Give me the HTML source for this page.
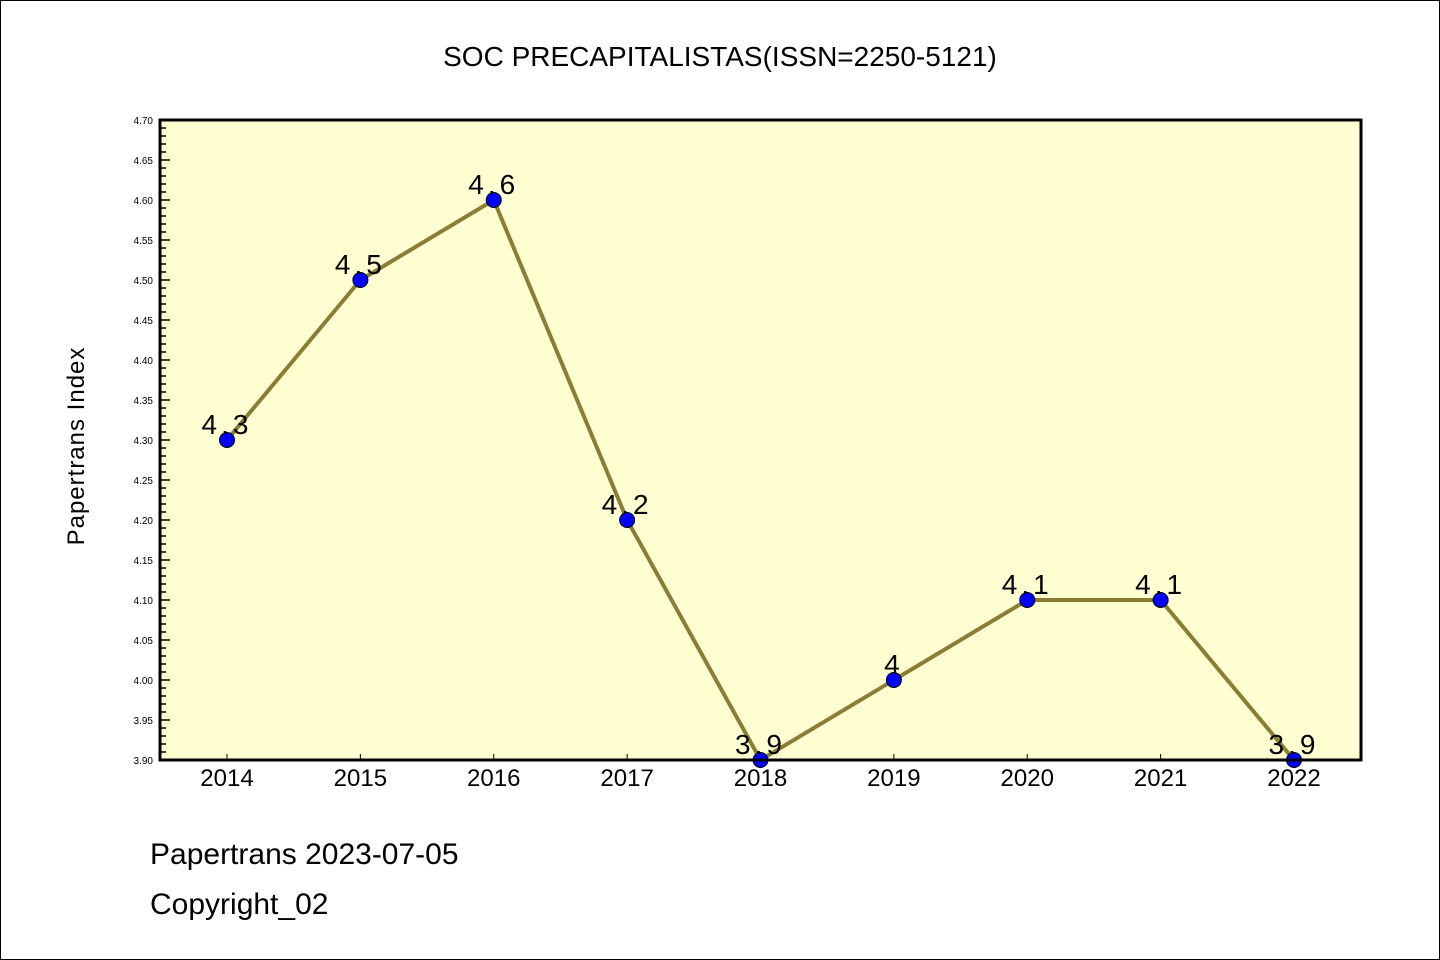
<!DOCTYPE html>
<html><head><meta charset="utf-8"><style>
body{margin:0;background:#fff;}
svg{display:block;font-family:"Liberation Sans",sans-serif;}
.wq{font-family:"WenQuanYi Zen Hei Mono","WenQuanYi Zen Hei","Liberation Sans",sans-serif;}
</style></head><body>
<svg id="c" width="1440" height="960" viewBox="0 0 1440 960">
<rect x="0.5" y="0.5" width="1439" height="959" fill="#fff" stroke="#000"/>
<text class="wq" x="720" y="66" text-anchor="middle" font-size="28">SOC PRECAPITALISTAS(ISSN=2250-5121)</text>
<rect x="160" y="120" width="1201" height="640" fill="#ffffd2"/>
<g id="yax"></g>
<g id="xax"></g>
<g id="marks"></g>
<rect x="160" y="120" width="1201" height="640" fill="none" stroke="#000" stroke-width="3"/>
<text class="wq" transform="translate(84,446) rotate(-90)" text-anchor="middle" font-size="24" letter-spacing="1">Papertrans Index</text>
<text class="wq" x="150" y="864" font-size="30">Papertrans 2023-07-05</text>
<text class="wq" x="150" y="914" font-size="30">Copyright_02</text>
</svg>
<script>
const years=["2014","2015","2016","2017","2018","2019","2020","2021","2022"];
const values=[4.3,4.5,4.6,4.2,3.9,4.0,4.1,4.1,3.9];
const valueLabels=["4.3","4.5","4.6","4.2","3.9","4","4.1","4.1","3.9"];
const yTicks=["3.90","3.95","4.00","4.05","4.10","4.15","4.20","4.25","4.30","4.35","4.40","4.45","4.50","4.55","4.60","4.65","4.70"];
const NS="http://www.w3.org/2000/svg";
const yMin=3.9,yMax=4.7,plotTop=120,plotBot=760;
function y(v){return plotBot-(v-yMin)/(yMax-yMin)*(plotBot-plotTop);}
function x(i){return 227+i*(1294-227)/(years.length-1);}
function mk(t,a,p){const e=document.createElementNS(NS,t);for(const k in a)e.setAttribute(k,a[k]);p.appendChild(e);return e;}
const ya=document.getElementById('yax'),xa=document.getElementById('xax'),m=document.getElementById('marks');
for(let k=0;k<=80;k++){const v=yMin+k*0.01;const yy=y(v);const major=k%5===0;
 const l=mk('line',{x1:160,x2:160+(major?10:6),y1:yy,y2:yy,stroke:'#000','stroke-width':1.5},ya);
 
 }
yTicks.forEach(s=>{const t=mk('text',{x:153,y:y(parseFloat(s))+4,'text-anchor':'end','font-size':10},ya);t.textContent=s;
 
 });
years.forEach((s,i)=>{const l=mk('line',{x1:x(i),x2:x(i),y1:760,y2:754,stroke:'#000','stroke-width':1},xa);
 
 
 const t=mk('text',{x:x(i),y:786,'text-anchor':'middle','font-size':24,'class':'wq'},xa);t.textContent=s;
 
 });
const pl=mk('polyline',{points:values.map((v,i)=>x(i)+','+y(v)).join(' '),fill:'none',stroke:'#8b7d35','stroke-width':4},m);


values.forEach((v,i)=>{const c=mk('circle',{cx:x(i),cy:y(v),r:7.5,fill:'#0000ff',stroke:'#000','stroke-width':1},m);
 
 
 const t=mk('text',{x:x(i),y:y(v)-6,'text-anchor':'middle','font-size':28,'letter-spacing':4,'class':'wq'},m);t.textContent=valueLabels[i];
 
 });
</script>
</body></html>
